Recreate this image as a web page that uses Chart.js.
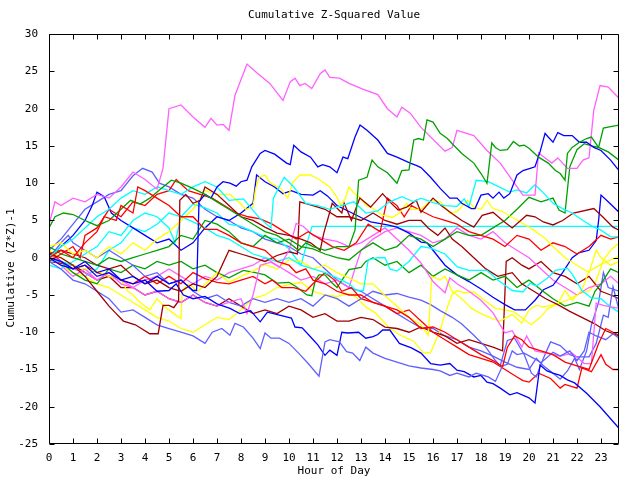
<!DOCTYPE html>
<html><head><meta charset="utf-8">
<script src="https://cdn.jsdelivr.net/npm/chart.js@4/dist/chart.umd.min.js"></script>
<style>html,body{margin:0;padding:0;background:#fff}</style>
</head><body>
<canvas id="c" width="640" height="480"></canvas>
<script>
const chartTitle = "Cumulative Z-Squared Value";
const xTitle = "Hour of Day";
const yTitle = "Cumulative (Z*Z)-1";
const hourTicks = [0,1,2,3,4,5,6,7,8,9,10,11,12,13,14,15,16,17,18,19,20,21,22,23];
const valueTicks = [-25,-20,-15,-10,-5,0,5,10,15,20,25,30];

const magentaA = [[0,4.4],[0.25,7.5],[0.5,7],[1,8],[1.5,7.5],[2,8.5],[2.5,8],[3,9.5],[3.5,11.5],[4,10.5],[4.5,9.2],[4.75,12],[5,20],[5.5,20.5],[6,18.9],[6.5,17.5],[6.75,18.7],[7,17.8],[7.25,17.9],[7.5,17.1],[7.75,21.8],[8.25,26],[8.67,24.8],[9.2,23.4],[9.75,21.1],[10.05,23.6],[10.25,24.1],[10.45,23.1],[10.67,23.4],[10.95,22.7],[11.3,24.7],[11.5,25.2],[11.7,24.2],[12.1,24.1],[12.5,23.4],[13.1,22.6],[13.7,21.9],[14.1,20],[14.5,18.9],[14.7,20.2],[15.05,19.4],[15.5,17.5],[16.5,14.3],[16.8,14.8],[17,17.1],[17.3,16.8],[17.7,16.4],[18.25,14.4],[18.8,12.7],[19.3,10.4],[19.75,8.4],[20.25,8.4],[20.4,14.1],[20.55,13.7],[20.95,12.7],[21.2,13.4],[21.6,12],[22,12],[22.25,13.1],[22.5,13.4],[22.7,19.8],[22.96,23.1],[23.3,22.9],[23.75,21.4]];
const magentaB = [[0,0.5],[0.5,-0.5],[1,-1.5],[1.5,-2],[2,-3],[2.5,-2],[3,-3.5],[3.5,-4],[4,-5],[4.5,-4.5],[5,-5.5],[5.5,-6],[6,-5],[6.5,-6],[7,-6.5],[7.5,-6],[8,-5.5],[8.25,-7.5],[8.5,-5],[8.8,-1],[9.25,-0.6],[9.6,-1.3],[10,1],[10.3,4.6],[10.6,4.2],[11,3],[11.5,2.5],[12,2.2],[12.5,1.5],[13,2],[13.5,3],[14,4],[14.5,2.5],[15,1],[15.5,-0.7],[16,-3.2],[16.5,-4.7],[16.7,-2.7],[17,-3.5],[17.5,-4.5],[18,-5.7],[18.5,-7.4],[19,-10.1],[19.3,-9.8],[19.7,-12],[19.9,-10.5],[20.25,-12.5],[20.7,-12.8],[21.3,-13.2],[21.8,-12.8],[22.3,-14.2],[22.6,-14.2],[22.8,-6.1],[23.1,-6.4],[23.75,-6.8]];
const magentaC = [[0,0],[0.5,-1],[1,-2.5],[1.5,-1.5],[2,-3],[2.5,-2],[3,-3],[3.5,-4],[4,-3],[4.5,-2.5],[5,-1.5],[5.5,-2.5],[6,-3.5],[6.5,-2.5],[7,-3],[7.5,-2],[8,-1.5],[8.5,-1],[9,0],[9.5,-1],[10,-2],[10.5,-3],[11,-2.5],[11.5,-3.5],[12,-3],[12.5,-4],[13,1],[13.5,2.5],[14,3.5],[14.5,4],[15,3.5],[15.5,3],[16,2],[16.5,2.5],[17,4],[17.5,3],[18,2.5],[18.5,3.5],[19,2],[19.5,1],[20,0],[20.5,-1.5],[21,-3],[21.5,-4],[22,-5],[22.5,-4],[23,-3.5],[23.4,-2.5],[23.75,-3.5]];
const blueA = [[0,0],[0.5,-1],[1,-1.5],[1.5,-0.5],[2,-2],[2.5,-1.5],[3,-3],[3.5,-2.5],[4,-3.5],[4.5,-2.5],[5,-3.5],[5.5,-3],[6,-4.4],[6.15,-4.4],[6.25,7.5],[6.5,8.5],[6.75,8],[7,9.5],[7.25,10.2],[7.54,10],[7.8,9.6],[8,10.2],[8.25,10.4],[8.45,12.2],[8.8,14],[9,14.4],[9.4,13.9],[9.9,12.7],[10.05,12.5],[10.2,15.1],[10.5,14.2],[10.9,13.5],[11.2,12.2],[11.4,12.5],[11.7,12.2],[12,11.4],[12.25,13.5],[12.45,13.3],[12.75,16.2],[12.96,17.8],[13.25,17.1],[13.7,15.8],[14.1,14],[14.5,13.5],[15.05,12.7],[15.3,12.4],[15.5,12.1],[15.9,10.8],[16.3,9.3],[16.7,8],[17,8],[17.2,7.3],[17.6,6.6],[17.75,6.6],[18,8.4],[18.3,8.6],[18.5,8],[18.75,8.8],[18.95,8],[19.2,8.6],[19.5,11.1],[19.75,11.7],[20.05,12],[20.25,12.2],[20.46,14.2],[20.67,16.7],[20.8,16.2],[21,15.5],[21.2,16.8],[21.45,16.4],[21.8,16.4],[22.1,15.5],[22.4,15.5],[22.7,14.8],[23,14.4],[23.4,13.1],[23.75,11.7]];
const blueB = [[0,0],[0.5,-0.5],[1,-1.5],[1.5,-1],[2,-2.5],[2.5,-2],[3,-3],[3.5,-3.5],[4,-3],[4.5,-4.5],[5,-4.4],[5.3,-3.5],[5.6,-5],[6,-5.5],[6.5,-5.2],[7,-6.2],[7.54,-6.8],[7.95,-7.5],[8.4,-7.1],[8.8,-8.6],[9.1,-7.3],[9.6,-7.7],[10.1,-8.1],[10.25,-9.3],[10.55,-9.4],[10.95,-10.8],[11.2,-11.7],[11.5,-13.1],[11.7,-12.4],[12,-13.1],[12.2,-10],[12.45,-10.1],[12.9,-10],[13.2,-10.8],[13.5,-10.6],[13.7,-10.3],[13.9,-9.7],[14.2,-9.7],[14.6,-11.5],[15.1,-12.1],[15.5,-12.8],[15.9,-14.2],[16.3,-14.4],[16.7,-14.2],[17,-15.1],[17.3,-15.3],[17.7,-16],[18,-15.8],[18.25,-16.7],[18.5,-16.9],[18.8,-17.5],[19.2,-18.4],[19.5,-18.1],[20,-18.8],[20.25,-19.5],[20.46,-14.4],[20.75,-15.2],[21,-15.5],[21.3,-15.8],[21.6,-16.4],[21.9,-16.8],[22.4,-18.2],[22.96,-20],[23.75,-22.9]];
const blueC = [[0,0],[0.5,1.5],[1,3],[1.5,5],[1.8,7],[2,8.8],[2.3,8.2],[2.6,6],[3,5],[3.5,4],[4,3],[4.5,2],[5,2.5],[5.5,1],[6,2],[6.5,4],[7,5.5],[7.5,5],[8,6],[8.5,7.3],[8.65,11.1],[9,10.2],[9.4,9.5],[9.75,8.6],[10.1,9],[10.5,8.5],[11,8.4],[11.3,9],[11.6,8.3],[12,7],[12.5,6.2],[13,5.4],[13.4,4.8],[14.1,4.4],[14.5,4.1],[15,3.3],[15.5,2.1],[15.75,2],[16,1],[16.5,-1],[17,-2.3],[17.5,-3.2],[18,-4.2],[18.5,-5.3],[19,-6.3],[19.4,-7],[19.85,-7],[20.25,-5.7],[20.6,-4.3],[21,-3.7],[21.4,-2],[21.8,0],[22.1,0.7],[22.5,1],[22.8,2.3],[22.9,5],[23,8.4],[23.3,7.5],[23.75,6.1]];
const greenA = [[0,4],[0.25,5.5],[0.6,6],[1,5.8],[1.5,5],[2,4.3],[2.5,5],[3,6.5],[3.4,7.7],[3.8,7.2],[4.2,8],[4.6,9.1],[5.1,10.4],[5.5,10],[6,9.3],[6.5,8.5],[7,7.5],[7.5,6.5],[8,5.5],[8.5,4.5],[9,3.5],[9.5,3],[10,2],[10.4,1],[10.7,2],[11,1.5],[11.5,1],[12,1.5],[12.5,1.5],[12.75,3.7],[12.9,10.4],[13.25,10.8],[13.46,13.1],[13.7,12.2],[14.1,11.4],[14.5,10],[14.7,11.7],[15,11.8],[15.2,15.8],[15.4,16],[15.6,15.8],[15.75,18.5],[16,18.2],[16.3,16.7],[16.6,16],[16.8,15.3],[17.2,14],[17.7,12.7],[18,11.3],[18.25,10],[18.45,15.4],[18.6,14.8],[18.8,14.4],[19.1,14.5],[19.35,15.6],[19.6,15],[19.8,15.1],[20,14.7],[20.4,13.5],[20.8,12.7],[21.1,11.7],[21.3,11.3],[21.5,10.4],[21.6,14],[21.8,14.8],[22.1,15.5],[22.4,16],[22.6,16.2],[22.9,14.8],[23.3,14.2],[23.75,13.1]];
const greenB = [[0,1.5],[0.5,0.5],[1,0],[1.5,-0.5],[2,-1],[2.5,0],[3,-0.5],[3.5,0],[4,0.5],[4.5,1],[5,1.5],[5.5,3],[6,2.5],[6.5,5],[7,4.5],[7.5,3.5],[8,2],[8.5,1.5],[9,3],[9.5,2],[10,2.5],[10.5,1.5],[11,1.2],[11.5,0.5],[12,0],[12.5,-0.3],[13,1],[13.5,2],[14,1],[14.5,1.5],[15,3],[15.5,2.5],[16,1.5],[16.5,2.5],[17,3.5],[17.5,3],[18,3],[18.5,4],[19,5],[19.5,6.5],[20,8.1],[20.5,7.5],[21,8],[21.25,6.4],[21.5,6],[21.7,12.2],[22,14.5],[22.3,15.3],[22.6,15],[22.9,14.8],[23.1,17.4],[23.4,17.6],[23.75,17.8]];
const greenC = [[0,0.5],[0.5,-0.5],[1,-2],[1.5,-3],[2,-3.5],[2.5,-1.5],[3,-2],[3.5,-1],[4,-1.5],[4.5,-0.5],[5,-1],[5.5,-0.5],[6,-1.5],[6.5,-1],[7,-2],[7.5,-2.7],[8.1,-1.7],[8.6,-2],[9,-2.3],[9.5,-3.4],[10,-3.3],[10.3,-3.9],[10.75,-5],[10.95,-5.1],[11.1,-3],[11.25,-2.3],[11.5,-2.3],[11.8,-3.4],[12,-4],[12.5,-1.6],[13,-1.3],[13.2,-0.5],[13.5,0],[14,-1],[14.5,-0.5],[15,-2],[15.5,-1],[16,-2.5],[16.5,-1.5],[17,-2.3],[17.5,-3],[18,-2],[18.5,-3],[19,-2.5],[19.5,-4],[20,-3],[20.5,-4.3],[21,-5.5],[21.5,-6.5],[22,-6],[22.5,-6.5],[22.75,-4.5],[23,-3.5],[23.4,-1.5],[23.75,-2]];
const cyanA = [[0,0],[0.5,1.5],[1,2.5],[1.5,4],[2,5.5],[2.5,6.5],[3,8],[3.5,9],[4,8.5],[4.5,9.5],[5,9],[5.5,8.5],[6,9.5],[6.5,10.2],[7,9.5],[7.5,7.7],[8.1,7.9],[8.75,5.4],[9.25,4],[9.35,8],[9.8,10.8],[10.2,9.5],[10.7,7.3],[11.2,7],[11.7,6.5],[12.2,7],[12.7,7.5],[13.2,6],[13.7,6.3],[14.2,7.5],[14.7,8.2],[15.2,7.5],[15.5,8],[16,7.4],[16.5,7],[17,6.9],[17.3,7.9],[17.5,6.9],[17.8,10.4],[18.3,10.2],[18.75,9.5],[19.2,8.8],[19.5,9.1],[19.9,8.7],[20.25,9.8],[20.6,8.7],[21,7.3],[21.4,6.6],[21.8,6],[22.25,5],[22.7,4.1],[23,3.7],[23.4,2.8],[23.75,2.8]];
const cyanB = [[0,-0.5],[0.5,-0.5],[1,-1],[1.5,-2.5],[2,-1.5],[2.5,1],[3,2],[3.5,4],[4,3.5],[4.5,4.5],[5,6],[5.5,5.5],[6,7.2],[6.5,6.7],[7,6],[7.5,4.5],[8,4.2],[8.5,3.5],[9,2.8],[9.5,2.5],[10,1.2],[10.5,-1],[10.75,2],[10.96,4.2],[23.75,4.2]];
const cyanC = [[0,-1],[0.5,-1.5],[1,-0.5],[1.5,0.5],[2,1.5],[2.5,3.5],[3,3],[3.5,5],[4,6],[4.5,5.5],[5,4],[5.25,2],[5.5,5.5],[6,4.8],[6.5,4],[7,3],[7.5,2.5],[8,1.5],[8.5,0.5],[9,0],[9.5,-0.5],[10,0],[10.5,-1],[11,-1.5],[11.5,-2],[12,-2.7],[12.5,-3.5],[12.8,-4.4],[13.1,-4.4],[13.3,-0.3],[13.7,0],[14,0],[14.2,-1.5],[14.5,-1.8],[15,-0.5],[15.5,1.5],[15.9,1.3],[16.5,0.5],[17,-1.2],[17.5,-1.7],[18.25,-1.7],[18.7,-3],[19.3,-4.4],[19.75,-4.6],[20.05,-3.4],[20.3,-3.8],[20.75,-2.8],[21.1,-1.7],[21.6,-1.4],[21.8,-2.2],[22.2,-4.4],[22.6,-5.4],[23,-5.5],[23.4,-6.6],[23.75,-7.3]];
const yellowA = [[0,1.5],[0.5,2],[1,0.5],[1.5,1],[2,0],[2.5,1.5],[3,0.5],[3.5,2],[4,1],[4.5,2.5],[5,3.5],[5.5,5],[6,6.5],[6.5,9],[7,8.5],[7.54,8.5],[7.9,7.5],[8.2,6.5],[8.5,6.8],[8.6,9.1],[8.75,10.8],[9,11.1],[9.2,10.1],[9.65,9.3],[9.95,8],[10.15,10.1],[10.45,11.1],[10.9,11.1],[11.3,10.4],[11.7,9.5],[12,8.1],[12.15,7],[12.35,8],[12.5,9.5],[12.7,8.7],[13,8],[13.2,7],[13.4,6.8],[13.6,6.4],[13.9,5.7],[14.3,5.4],[14.6,6],[14.9,7.3],[15.1,6.5],[15.5,6.5],[15.9,7.7],[16.3,7.5],[16.7,6],[17,6.2],[17.45,7.7],[17.7,6.8],[18,6.5],[18.25,7.7],[18.5,6.6],[18.9,6.2],[19.3,5.4],[19.75,4.6],[20.2,3.7],[20.7,2.5],[21,1.5],[21.5,0],[22,-1],[22.5,-2],[22.8,1],[23,0],[23.4,-1],[23.75,-0.5]];
const yellowB = [[0,1],[0.5,0],[1,-1],[1.5,-1.5],[2,-1.8],[2.5,-2.5],[3,-3],[3.25,-4.4],[3.5,-5],[3.8,-6],[4.2,-7],[4.5,-5.5],[4.8,-6.5],[5.2,-7.5],[5.5,-8.2],[5.55,-4.5],[5.8,-3.5],[6.2,-4.5],[6.7,-3],[7,-2],[7.5,-3.3],[8,-2.5],[8.5,-1.8],[9,-0.9],[9.5,-1.5],[10,-0.3],[10.5,-0.5],[11,-1.5],[11.5,-1],[12,-2],[12.5,-2.7],[13,-3.5],[13.5,-3.5],[14,-5.1],[14.5,-6.5],[15,-8],[15.5,-9],[15.8,-10.4],[15.95,-2.5],[16.3,-3],[16.5,-2.5],[16.8,-4.5],[17.2,-5.5],[17.6,-6.8],[18,-7.5],[18.5,-8.2],[18.8,-8.5],[19.3,-7.6],[19.7,-8.8],[20,-7],[20.3,-6.4],[20.6,-6.6],[21.2,-6.2],[21.5,-4.4],[21.8,-5.7],[22.2,-4.4],[22.5,-1.8],[23,-0.9],[23.4,-0.3],[23.75,0.2]];
const yellowC = [[0,0.5],[0.5,-1],[1,-2],[1.5,-2.5],[2,-3.5],[2.5,-4],[3,-5],[3.5,-6],[4,-7],[4.5,-8],[5,-8.5],[5.5,-9.5],[6,-10],[6.5,-9],[7,-8],[7.5,-8.3],[8,-7],[8.5,-5.5],[9,-5],[9.5,-4],[10,-3.6],[10.5,-3.3],[11,-4.5],[11.5,-5],[12,-5.2],[12.5,-4.8],[12.8,-5.3],[13.2,-6.6],[13.6,-7.4],[14.2,-9.5],[14.7,-10.5],[15.2,-11.2],[15.6,-12.8],[15.9,-12.7],[16.3,-9.8],[16.5,-7.5],[16.8,-4.9],[17,-4.4],[17.3,-4.7],[17.7,-4.6],[18.1,-5.6],[18.6,-6.8],[19,-7],[19.4,-7.3],[19.8,-8.3],[20.1,-9],[20.5,-7.9],[20.8,-6.8],[21.2,-6.2],[21.6,-5.7],[22.1,-4.8],[22.5,-4.5],[22.75,-3.5],[23.1,-0.3],[23.4,1],[23.75,2]];
const redA = [[0,0],[0.5,1],[1,0],[1.5,2],[2,3.5],[2.3,5.5],[2.8,5],[3,7],[3.5,6],[3.7,9.5],[4,9],[4.5,8],[5,7],[5.5,5.5],[6,5.5],[6.5,3.8],[7,3.8],[7.5,3],[8,2],[8.5,1.5],[9,1],[9.5,-0.5],[10,-1],[10.3,-2],[10.7,-1.5],[11,-3],[11.5,-3.5],[12,-4.5],[12.5,-5],[13,-5],[13.5,-6],[14,-6.5],[14.5,-7],[15,-8],[15.5,-9.5],[16,-9.3],[16.5,-10],[17,-11],[17.5,-12],[18,-13],[18.5,-13.8],[18.9,-14.6],[19.1,-12],[19.4,-10.5],[19.7,-11],[20,-12],[20.5,-12.5],[21,-13],[21.5,-14],[22,-14.5],[22.5,-15],[22.9,-11.5],[23.2,-9.5],[23.5,-10],[23.75,-10.4]];
const redB = [[0,-0.5],[0.5,0.5],[1,1.5],[1.3,0],[1.5,3],[2,4],[2.5,6.5],[3,5.5],[3.5,7.5],[4,7],[4.5,8.5],[5,9],[5.3,10.5],[5.8,9],[6.3,8.5],[6.8,8],[7.3,7],[7.8,6],[8.3,5.5],[8.8,5.2],[9.3,4.5],[9.8,3.5],[10.3,2.5],[10.8,3.5],[11.3,2.5],[11.8,1.5],[12.3,1],[12.8,2],[13.3,4.5],[13.8,3.5],[14.1,8],[14.5,7],[14.8,5.5],[15.1,7],[15.5,6.3],[16,5.5],[16.5,5],[17,4.5],[17.5,3.5],[18,3],[18.5,2.5],[19,1.5],[19.5,3],[20,2.5],[20.5,1],[21,2],[21.5,1.5],[22,0.5],[22.5,1.5],[23,3],[23.4,2.5],[23.75,2.8]];
const redC = [[0,1],[0.5,-0.5],[1,-1.5],[1.5,-1],[2,-2],[2.5,-2.5],[3,-3],[3.5,-3.5],[4,-2.5],[4.5,-3.5],[5,-2.5],[5.5,-3.5],[6,-2],[6.5,-2.8],[7,-3.3],[7.5,-3.5],[8,-3],[8.5,-2.5],[9,-3.5],[9.3,-3],[9.7,-4],[10.2,-4],[10.7,-4.5],[11,-3.5],[11.5,-2],[11.9,-3],[12.2,-4.5],[12.6,-4],[13,-5.5],[13.5,-6],[14,-6.5],[14.5,-7.5],[15,-7],[15.5,-8.5],[16,-10],[16.5,-11],[17,-12],[17.5,-13],[18,-13.5],[18.5,-14],[19,-15],[19.5,-16],[19.75,-16.5],[20,-16.7],[20.4,-15.5],[20.9,-16.2],[21.3,-17.5],[21.5,-17],[22,-17.5],[22.2,-14.8],[22.6,-15.3],[23,-13],[23.2,-14.3],[23.5,-15],[23.75,-15]];
const darkRedA = [[0,0.5],[0.5,0],[1,-1],[1.5,-2.5],[2,-4.5],[2.5,-6.5],[2.8,-7.5],[3.1,-8.5],[3.6,-9],[4.2,-10.2],[4.55,-10.2],[4.75,-6.4],[5,-6.4],[5.2,-6.7],[5.4,-5.8],[5.45,7.7],[5.7,8.5],[6,7.3],[6.3,7.7],[6.5,9.5],[7,8.5],[7.5,7],[8,5.5],[8.5,5],[9,4.1],[9.5,3.3],[10,3],[10.5,2.5],[10.9,2],[11.3,1],[11.45,3.3],[11.6,5],[11.8,7.3],[12.2,6],[12.3,7.3],[12.6,5],[12.95,8],[13.4,6.8],[13.9,8.6],[14.2,7.5],[14.55,6.4],[14.9,6.8],[15.3,7.7],[15.5,6.1],[16,8],[16.3,7.1],[16.8,5.9],[17.2,5],[17.7,4.1],[17.9,5],[18.05,5.7],[18.5,6.1],[18.9,5],[19.3,4],[19.9,5.7],[20.25,5.5],[20.6,4.8],[21,4.4],[21.4,5],[21.85,6],[22.7,6.6],[23.1,5.4],[23.5,4.1],[23.75,3.7]];
const darkRedB = [[0,0.5],[0.5,1],[1,0.5],[1.5,0],[2,-1],[2.5,-1.5],[3,-1],[3.5,-2.5],[4,-3.5],[4.5,-3],[5,-4],[5.5,-4.5],[6,-3.5],[6.5,-4],[7,-2.5],[7.5,1],[8,0.5],[8.5,0],[9,-0.5],[9.5,0.3],[10,0.8],[10.35,0.5],[10.45,7.5],[11,7],[11.5,6.5],[12,5.5],[12.5,5.5],[13,5],[13.5,6],[14,5],[14.5,4.5],[15,5],[15.5,5],[15.8,4],[16.2,3],[16.5,4],[16.8,2.5],[17.2,1.5],[17.7,0],[18.2,-1.5],[18.7,-2.5],[19.3,-2],[19.7,-3.5],[20.2,-4.5],[20.7,-5.5],[21.2,-6.3],[21.7,-7.2],[22.2,-8],[22.7,-8.8],[23.2,-9.8],[23.75,-10.5]];
const darkRedC = [[0,-0.5],[1,-1],[1.5,-2],[2,-3],[2.5,-2.5],[3,-4],[3.5,-4],[4,-5],[4.5,-4.5],[5,-5.5],[5.5,-6],[6,-5],[6.5,-6],[7,-6.5],[7.5,-5.5],[8,-6.5],[8.5,-7.5],[9,-7],[9.5,-7.5],[10,-6.5],[10.5,-7],[11,-8],[11.5,-7.5],[12,-8.5],[12.5,-8.5],[13,-8],[13.5,-8.3],[14,-9.3],[14.5,-9.5],[15,-10],[15.5,-9.3],[16,-10],[16.5,-10.5],[17,-11.5],[17.5,-11],[18,-11.5],[18.5,-12],[18.9,-12.5],[19.05,-0.5],[19.3,0],[19.7,-1],[20,-1.5],[20.5,-0.5],[21,-2],[21.5,-2.5],[22,-3.5],[22.5,-2.5],[23,-4.5],[23.4,-5],[23.75,-5.5]];
const lightBlueA = [[0,-0.5],[0.5,-1.5],[1,-3],[1.5,-3.5],[2,-4.5],[2.5,-5.5],[3,-7.3],[3.5,-7],[4,-8],[4.5,-9],[5,-9.5],[5.5,-10],[6,-10.5],[6.5,-11.5],[6.8,-10],[7.2,-9.5],[7.54,-10.4],[7.75,-8.8],[8.1,-9.3],[8.5,-10.8],[8.8,-12.2],[9,-10.1],[9.25,-10.8],[9.6,-10.8],[10,-11.5],[10.4,-12.8],[10.8,-14.2],[11.25,-15.9],[11.5,-11.3],[11.7,-11],[12.1,-11.3],[12.4,-12.6],[12.65,-12.8],[12.95,-13.8],[13.2,-12],[13.5,-12.8],[14,-13.5],[14.5,-14],[15,-14.5],[15.5,-14.8],[16,-15],[16.3,-15.2],[16.7,-15.8],[17,-15.5],[17.5,-16],[17.8,-15.5],[18.3,-16],[18.6,-16.6],[18.9,-14.5],[19.1,-14.3],[19.3,-12.5],[19.5,-13],[19.8,-12.8],[20.2,-13.5],[20.5,-14.1],[21,-12.7],[21.3,-13.2],[21.7,-12.5],[22,-13.8],[22.3,-12.5],[22.5,-10],[22.8,-10.5],[23.2,-11],[23.5,-10.2],[23.75,-10.8]];
const lightBlueB = [[0,0],[0.5,2],[0.8,3],[1,2],[1.5,1],[2,0],[2.5,1],[3,0],[3.5,-1],[4,-2.5],[4.5,-2],[5,-3.5],[5.5,-3],[6,-4.5],[6.5,-5.5],[7,-5],[7.5,-6],[8,-6.5],[8.5,-5.5],[9,-6],[9.5,-5.5],[10,-6],[10.5,-5.5],[11,-6.5],[11.5,-5],[12,-5.5],[12.5,-6.5],[13,-5.5],[13.5,-4.5],[14,-5],[14.5,-4.8],[15,-5.3],[15.5,-5.7],[15.9,-6.3],[16.3,-7.1],[16.8,-8],[17.2,-8.9],[17.7,-10.4],[18.2,-12],[18.6,-13.8],[18.8,-14.5],[19.1,-11.1],[19.4,-10.8],[19.8,-13],[20.1,-15.5],[20.3,-16],[20.6,-13.5],[20.9,-11.3],[21.3,-11.8],[21.7,-13],[22,-13.3],[22.5,-13.3],[22.8,-11.5],[23.1,-7.7],[23.3,-8],[23.5,-3.9],[23.75,-7]];
const lightBlueC = [[0,1],[0.5,2.5],[1,4.5],[1.5,6.5],[2,7.5],[2.5,8.5],[3,9],[3.5,11],[3.9,12],[4.3,11.5],[4.6,10],[5,9.5],[5.5,8.5],[6,8],[6.5,6.5],[7,5.5],[7.5,5],[8,4],[8.5,3.5],[9,2.5],[9.5,2],[10,1.5],[10.5,0.5],[11,0],[11.5,-1.5],[12,-3],[12.5,-4],[13,-4.5],[13.5,-5.5],[14,-6.5],[14.5,-7.5],[15,-8.5],[15.5,-9.4],[16,-9.5],[16.5,-10.5],[17,-11],[17.5,-12],[18,-12.5],[18.5,-13.2],[19,-14],[19.5,-14.7],[20,-15],[20.3,-13.5],[20.6,-14.5],[21,-15.5],[21.3,-16.3],[21.6,-15.2],[21.9,-13.5],[22.1,-15],[22.4,-12.5],[22.6,-9],[22.9,-6],[23.1,-2],[23.3,-4],[23.75,-4.5]];

const palette = {
  red: "#ff0000", green: "#00a000", blue: "#0000ff", magenta: "#ff60ff",
  cyan: "#00ffff", darkRed: "#a00000", yellow: "#ffff00", lightBlue: "#6060ff"
};

const seriesList = [
  [redA, "red"], [greenA, "green"], [blueA, "blue"], [magentaA, "magenta"], [cyanA, "cyan"], [darkRedA, "darkRed"], [yellowA, "yellow"], [lightBlueA, "lightBlue"],
  [redB, "red"], [greenB, "green"], [blueB, "blue"], [magentaB, "magenta"], [cyanC, "cyan"], [darkRedB, "darkRed"], [yellowB, "yellow"], [lightBlueB, "lightBlue"],
  [redC, "red"], [greenC, "green"], [blueC, "blue"], [magentaC, "magenta"], [cyanB, "cyan"], [darkRedC, "darkRed"], [yellowC, "yellow"], [lightBlueC, "lightBlue"]
];

const FONT = "'DejaVu Sans Mono', 'Liberation Mono', monospace";

const datasets = seriesList.map(([pts, col], i) => ({
  label: "s" + i,
  data: pts.map(p => ({x: p[0], y: p[1]})),
  borderColor: palette[col],
  backgroundColor: palette[col],
  borderWidth: 1.3,
  pointRadius: 0,
  tension: 0,
  fill: false
}));

const framePlugin = {
  id: "frame",
  afterLayout(chart) {
    const t = chart.titleBlock, a = chart.chartArea;
    if (t && a) { t.left = a.left; t.right = a.right; t.width = a.right - a.left; }
  },
  afterDatasetsDraw(chart) {
    const {ctx, chartArea: a, scales} = chart;
    ctx.save();
    ctx.strokeStyle = "#000"; ctx.lineWidth = 1;
    const L = Math.round(a.left) + 0.5, R = Math.round(a.right) - 0.5, T = Math.round(a.top) + 0.5, B = Math.round(a.bottom) - 0.5;
    ctx.beginPath();
    ctx.rect(L, T, R - L, B - T);
    const len = 5;
    hourTicks.forEach(h => {
      const x = Math.round(scales.x.getPixelForValue(h)) + 0.5;
      ctx.moveTo(x, B); ctx.lineTo(x, B - len);
      ctx.moveTo(x, T); ctx.lineTo(x, T + len);
    });
    valueTicks.forEach(v => {
      const y = Math.round(scales.y.getPixelForValue(v)) + 0.5;
      ctx.moveTo(L, y); ctx.lineTo(L + len, y);
      ctx.moveTo(R, y); ctx.lineTo(R - len, y);
    });
    ctx.stroke();
    ctx.restore();
  },
  afterDraw(chart) {
    const ctx = chart.ctx;
    ctx.save();
    ctx.fillStyle = "#000";
    ctx.font = "11px " + FONT;
    ctx.translate(11, 268);
    ctx.rotate(-Math.PI / 2);
    ctx.textAlign = "center";
    ctx.textBaseline = "middle";
    ctx.fillText(yTitle, 0, 0);
    ctx.restore();
  }
};

new Chart(document.getElementById("c"), {
  type: "line",
  data: { datasets },
  options: {
    responsive: false,
    animation: false,
    devicePixelRatio: 1,
    layout: { padding: { left: 0, right: 21, top: 0, bottom: 0 } },
    plugins: {
      legend: { display: false },
      tooltip: { enabled: false },
      title: {
        display: true, text: chartTitle, color: "#000",
        font: { family: FONT, size: 11, weight: "normal" },
        padding: { top: 9, bottom: 12 }
      }
    },
    scales: {
      x: {
        type: "linear", min: 0, max: 23.75,
        afterFit(s) { s.height = 36; },
        border: { display: false },
        grid: { display: false, drawTicks: false },
        ticks: {
          stepSize: 1, includeBounds: false, autoSkip: false, maxRotation: 0,
          color: "#000", padding: 8, font: { family: FONT, size: 11 },
          callback: v => hourTicks.includes(v) ? String(v) : ""
        },
        title: { display: true, text: xTitle, color: "#000", font: { family: FONT, size: 11 }, padding: { top: 0, bottom: 2 } }
      },
      y: {
        type: "linear", min: -25, max: 30,
        afterFit(s) { s.width = 49; },
        border: { display: false },
        grid: { display: false, drawTicks: false },
        ticks: {
          stepSize: 5, color: "#000", padding: 11, font: { family: FONT, size: 11 },
          callback: v => valueTicks.includes(v) ? String(v) : ""
        }
      }
    }
  },
  plugins: [framePlugin]
});
</script>
</body></html>
